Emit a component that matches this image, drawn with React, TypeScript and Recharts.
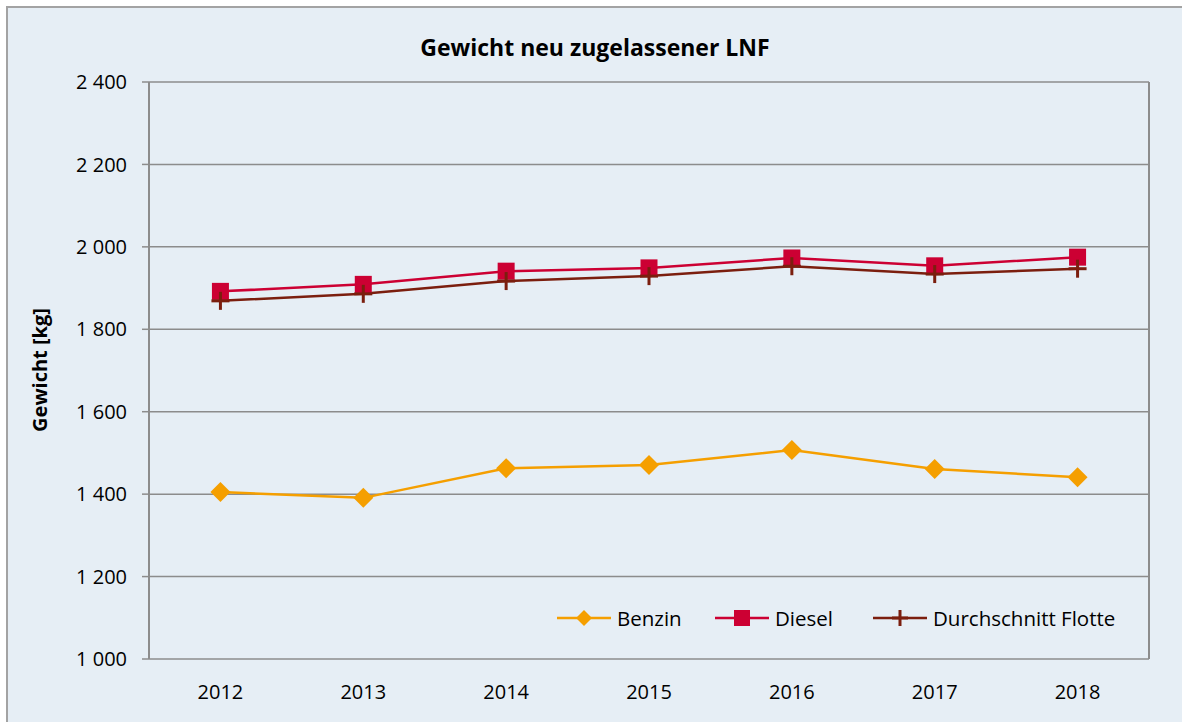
import React from 'react';
import { LineChart, Line, XAxis, YAxis, CartesianGrid, Legend } from 'recharts';

const years = [2012, 2013, 2014, 2015, 2016, 2017, 2018];
const benzin = [1405, 1391, 1463, 1471, 1507, 1461, 1441];
const diesel = [1892, 1909, 1941, 1949, 1973, 1954, 1975];
const flotte = [1869, 1886, 1917, 1929, 1953, 1934, 1947];

const yTicks = [1000, 1200, 1400, 1600, 1800, 2000, 2200, 2400];
// category boundaries, where the little x tick marks sit
const yearBounds = [2011.5, 2012.5, 2013.5, 2014.5, 2015.5, 2016.5, 2017.5, 2018.5];

const data = years.map((year, i) => ({
  year,
  Benzin: benzin[i],
  Diesel: diesel[i],
  'Durchschnitt Flotte': flotte[i],
}));

const COLORS = {
  Benzin: '#F59F00',
  Diesel: '#CC0033',
  'Durchschnitt Flotte': '#7B1E0E',
};

const GRID = '#8c8c8c';
const BG = '#E6EEF5';
const FONT = '"Open Sans", sans-serif';

const fmt = (v: number) => v.toString().replace(/\B(?=(\d{3})+(?!\d))/g, ' ');

const Diamond = ({ cx, cy, color, r = 10 }: any) => (
  <path d={`M${cx},${cy - r}L${cx + r},${cy}L${cx},${cy + r}L${cx - r},${cy}Z`} fill={color} />
);

const Square = ({ cx, cy, color, s = 17 }: any) => (
  <rect x={cx - s / 2} y={cy - s / 2} width={s} height={s} fill={color} />
);

const Plus = ({ cx, cy, color, s = 9 }: any) => (
  <g stroke={color} strokeWidth={3}>
    <line x1={cx} y1={cy - s} x2={cx} y2={cy + s} />
    <line x1={cx - s} y1={cy} x2={cx + s} y2={cy} />
  </g>
);

const markerFor = (name: string, cx: number, cy: number, small = false) => {
  const color = (COLORS as any)[name];
  if (name === 'Benzin') return <Diamond cx={cx} cy={cy} color={color} r={small ? 8 : 10} />;
  if (name === 'Diesel') return <Square cx={cx} cy={cy} color={color} s={small ? 16 : 17} />;
  return <Plus cx={cx} cy={cy} color={color} s={small ? 8 : 9} />;
};

const LegendContent = ({ payload }: any) => (
  <div style={{ display: 'flex', alignItems: 'center', fontFamily: FONT, fontSize: 20.5, color: '#000' }}>
    {(payload || []).map((p: any, i: number) => (
      <div key={p.value} style={{ display: 'flex', alignItems: 'center', width: i < 2 ? 158 : 'auto' }}>
        <svg width={54} height={22} style={{ marginRight: 6 }}>
          <line x1={0} y1={11} x2={54} y2={11} stroke={p.color} strokeWidth={2.5} />
          {markerFor(p.value, 27, 11, true)}
        </svg>
        <span style={{ whiteSpace: 'nowrap' }}>{p.value}</span>
      </div>
    ))}
  </div>
);

const makeDot = (name: string) => (props: any) => (
  <g key={`${name}-${props.index}`}>{markerFor(name, props.cx, props.cy)}</g>
);

export default function App() {
  return (
    <div
      style={{
        position: 'relative',
        width: 1200,
        height: 730,
        marginLeft: 6,
        marginTop: 6,
        borderTop: '2px solid #a3a3a3',
        borderLeft: '2px solid #a3a3a3',
        background: BG,
        fontFamily: FONT,
      }}
    >
      <style>{'body{margin:0;overflow:hidden;background:#fff}'}</style>
      <div
        style={{
          position: 'absolute',
          top: 26,
          left: 0,
          width: 1174,
          textAlign: 'center',
          fontSize: 23,
          fontWeight: 700,
          lineHeight: '26px',
          color: '#000',
          zIndex: 2,
        }}
      >
        Gewicht neu zugelassener LNF
      </div>
      <div
        style={{
          position: 'absolute',
          left: 31,
          top: 362,
          transform: 'translate(-50%, -50%) rotate(-90deg)',
          fontSize: 20,
          fontWeight: 700,
          whiteSpace: 'nowrap',
          color: '#000',
          zIndex: 2,
        }}
      >
        Gewicht [kg]
      </div>
      <LineChart
        width={1174}
        height={714}
        data={data}
        margin={{ top: 74, right: 32, bottom: 23, left: 0 }}
      >
        <CartesianGrid
          xAxisId="years"
          yAxisId="left"
          vertical={false}
          stroke={GRID}
          strokeWidth={1.5}
        />
        <XAxis
          xAxisId="bounds"
          dataKey="year"
          type="number"
          domain={[2011.5, 2018.5]}
          ticks={yearBounds}
          allowDataOverflow
          tick={false}
          tickSize={7}
          height={0}
          axisLine={{ stroke: GRID, strokeWidth: 2 }}
          tickLine={{ stroke: GRID, strokeWidth: 1.5 }}
        />
        <XAxis
          xAxisId="years"
          dataKey="year"
          type="number"
          domain={[2011.5, 2018.5]}
          ticks={years}
          interval={0}
          allowDataOverflow
          axisLine={false}
          tickLine={false}
          tickSize={8}
          tickMargin={18}
          height={40}
          tick={{ fill: '#000', fontSize: 20, fontFamily: FONT }}
        />
        <YAxis
          yAxisId="left"
          domain={[1000, 2400]}
          ticks={yTicks}
          interval={0}
          width={141}
          tickSize={7}
          tickMargin={15}
          tickFormatter={fmt}
          axisLine={{ stroke: GRID, strokeWidth: 2 }}
          tickLine={{ stroke: GRID, strokeWidth: 1.5 }}
          tick={{ fill: '#000', fontSize: 20, fontFamily: FONT }}
        />
        <YAxis
          yAxisId="right"
          orientation="right"
          domain={[1000, 2400]}
          width={1}
          tick={false}
          tickLine={false}
          axisLine={{ stroke: GRID, strokeWidth: 2 }}
        />
        <Legend
          layout="horizontal"
          verticalAlign="middle"
          align="center"
          content={<LegendContent />}
          wrapperStyle={{ left: 549, top: 596, width: 'auto', height: 22 }}
        />
        <Line
          xAxisId="years"
          yAxisId="left"
          dataKey="Benzin"
          stroke={COLORS.Benzin}
          strokeWidth={2.5}
          dot={makeDot('Benzin')}
          activeDot={false}
          isAnimationActive={false}
        />
        <Line
          xAxisId="years"
          yAxisId="left"
          dataKey="Diesel"
          stroke={COLORS.Diesel}
          strokeWidth={2.5}
          dot={makeDot('Diesel')}
          activeDot={false}
          isAnimationActive={false}
        />
        <Line
          xAxisId="years"
          yAxisId="left"
          dataKey="Durchschnitt Flotte"
          stroke={COLORS['Durchschnitt Flotte']}
          strokeWidth={2.5}
          dot={makeDot('Durchschnitt Flotte')}
          activeDot={false}
          isAnimationActive={false}
        />
      </LineChart>
    </div>
  );
}
